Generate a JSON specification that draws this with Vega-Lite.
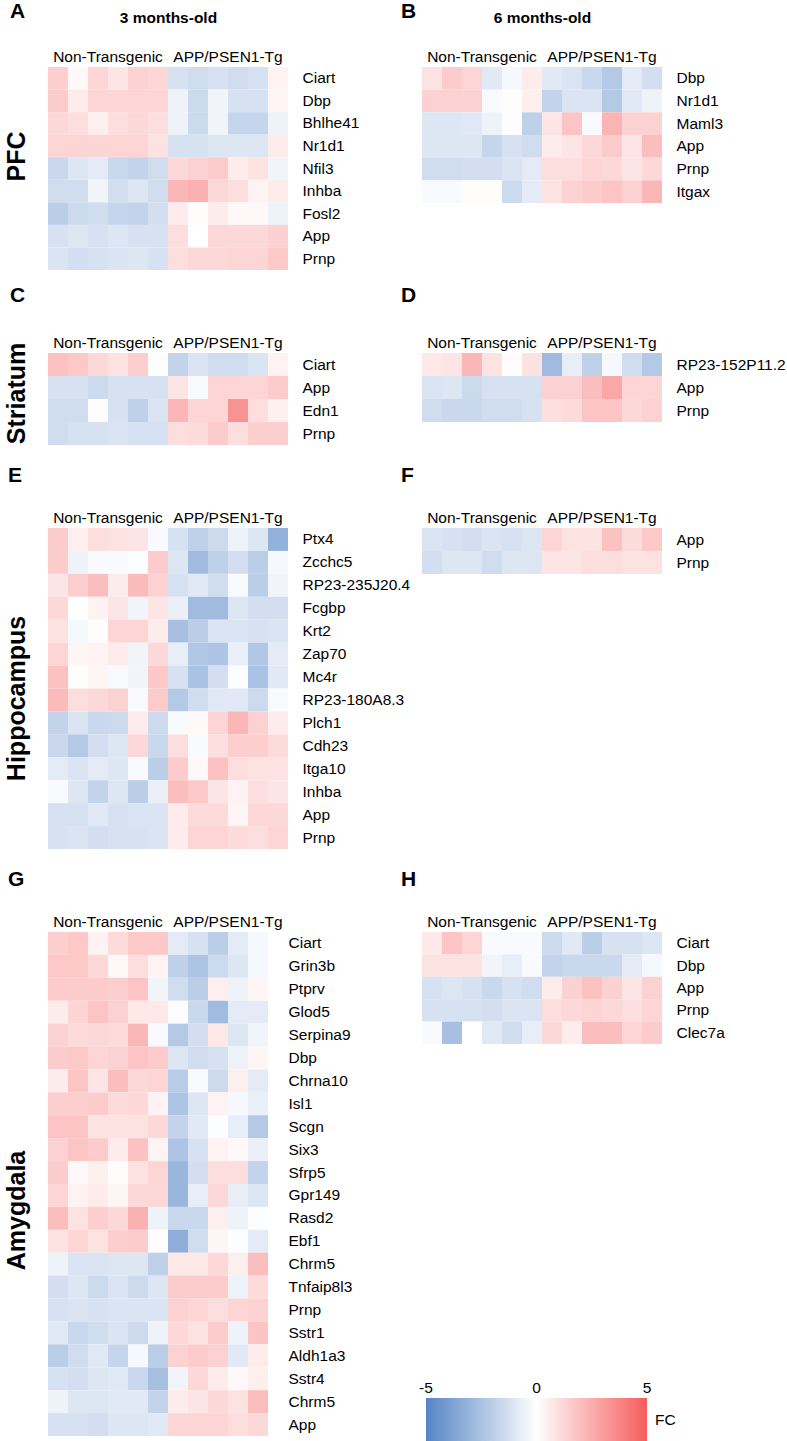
{
"$schema": "https://vega.github.io/schema/vega-lite/v6.json",
"background": "white",
"padding": {"left": 4, "top": 1, "right": 0, "bottom": 0},
"autosize": {"type": "pad"},
"config": {
  "font": "Liberation Sans",
  "view": {"stroke": null},
  "axis": {"ticks": false, "domain": false, "grid": false, "labelColor": "black", "labelFontSize": 15.5, "titleColor": "black"},
  "axisTop": {"labelOffset": 10, "labelPadding": 6, "labelBaseline": "alphabetic", "labelAngle": 0, "labelOverlap": false, "titleFontSize": 15.5, "titleFontWeight": "bold", "titlePadding": 27, "titleBaseline": "alphabetic"},
  "axisRight": {"labelPadding": 14, "labelBaseline": "middle", "labelAlign": "left"},
  "axisLeft": {"titleFontSize": 25, "titleFontWeight": "bold", "titlePadding": 19, "labels": false},
  "title": {"fontSize": 21, "fontWeight": "bold", "color": "black", "anchor": "start", "frame": "group", "baseline": "alphabetic"},
  "legend": {"orient": "none", "direction": "horizontal", "gradientLength": 221, "gradientThickness": 44, "gradientStrokeWidth": 0, "labelFontSize": 15.5, "labelColor": "black", "labelOverlap": false, "titleOrient": "right", "titleFontSize": 15.5, "titleFontWeight": "normal", "titleColor": "black", "titlePadding": 8, "titleAnchor": "middle"}
},
"datasets": {
"A": [
{"g":"Ciart","s":1,"v":1.5},{"g":"Ciart","s":2,"v":0.2},{"g":"Ciart","s":3,"v":1.3},{"g":"Ciart","s":4,"v":0.8},{"g":"Ciart","s":5,"v":1.4},{"g":"Ciart","s":6,"v":1.3},{"g":"Ciart","s":7,"v":-1.2},{"g":"Ciart","s":8,"v":-1.4},{"g":"Ciart","s":9,"v":-1.2},{"g":"Ciart","s":10,"v":-1.4},{"g":"Ciart","s":11,"v":-1.2},{"g":"Ciart","s":12,"v":0.4},
{"g":"Dbp","s":1,"v":1.6},{"g":"Dbp","s":2,"v":0.6},{"g":"Dbp","s":3,"v":1.3},{"g":"Dbp","s":4,"v":1.3},{"g":"Dbp","s":5,"v":1.3},{"g":"Dbp","s":6,"v":1.3},{"g":"Dbp","s":7,"v":-0.5},{"g":"Dbp","s":8,"v":-1.5},{"g":"Dbp","s":9,"v":-0.4},{"g":"Dbp","s":10,"v":-1.2},{"g":"Dbp","s":11,"v":-1.2},{"g":"Dbp","s":12,"v":0.3},
{"g":"Bhlhe41","s":1,"v":1.2},{"g":"Bhlhe41","s":2,"v":1.0},{"g":"Bhlhe41","s":3,"v":0.5},{"g":"Bhlhe41","s":4,"v":1.0},{"g":"Bhlhe41","s":5,"v":1.2},{"g":"Bhlhe41","s":6,"v":1.0},{"g":"Bhlhe41","s":7,"v":-0.5},{"g":"Bhlhe41","s":8,"v":-1.5},{"g":"Bhlhe41","s":9,"v":-0.4},{"g":"Bhlhe41","s":10,"v":-1.7},{"g":"Bhlhe41","s":11,"v":-1.7},{"g":"Bhlhe41","s":12,"v":-0.5},
{"g":"Nr1d1","s":1,"v":1.3},{"g":"Nr1d1","s":2,"v":1.3},{"g":"Nr1d1","s":3,"v":1.3},{"g":"Nr1d1","s":4,"v":1.3},{"g":"Nr1d1","s":5,"v":1.3},{"g":"Nr1d1","s":6,"v":0.9},{"g":"Nr1d1","s":7,"v":-1.2},{"g":"Nr1d1","s":8,"v":-1.2},{"g":"Nr1d1","s":9,"v":-1.0},{"g":"Nr1d1","s":10,"v":-1.0},{"g":"Nr1d1","s":11,"v":-1.0},{"g":"Nr1d1","s":12,"v":0.6},
{"g":"Nfil3","s":1,"v":-1.6},{"g":"Nfil3","s":2,"v":-1.0},{"g":"Nfil3","s":3,"v":-0.8},{"g":"Nfil3","s":4,"v":-1.6},{"g":"Nfil3","s":5,"v":-1.8},{"g":"Nfil3","s":6,"v":-1.4},{"g":"Nfil3","s":7,"v":1.2},{"g":"Nfil3","s":8,"v":1.4},{"g":"Nfil3","s":9,"v":1.6},{"g":"Nfil3","s":10,"v":0.6},{"g":"Nfil3","s":11,"v":0.9},{"g":"Nfil3","s":12,"v":-0.4},
{"g":"Inhba","s":1,"v":-1.4},{"g":"Inhba","s":2,"v":-1.4},{"g":"Inhba","s":3,"v":-0.4},{"g":"Inhba","s":4,"v":-1.3},{"g":"Inhba","s":5,"v":-1.0},{"g":"Inhba","s":6,"v":-1.4},{"g":"Inhba","s":7,"v":2.2},{"g":"Inhba","s":8,"v":2.4},{"g":"Inhba","s":9,"v":1.2},{"g":"Inhba","s":10,"v":1.0},{"g":"Inhba","s":11,"v":0.4},{"g":"Inhba","s":12,"v":0.6},
{"g":"Fosl2","s":1,"v":-2.0},{"g":"Fosl2","s":2,"v":-1.5},{"g":"Fosl2","s":3,"v":-1.4},{"g":"Fosl2","s":4,"v":-1.7},{"g":"Fosl2","s":5,"v":-1.8},{"g":"Fosl2","s":6,"v":-1.3},{"g":"Fosl2","s":7,"v":0.6},{"g":"Fosl2","s":8,"v":0.1},{"g":"Fosl2","s":9,"v":0.6},{"g":"Fosl2","s":10,"v":0.2},{"g":"Fosl2","s":11,"v":0.2},{"g":"Fosl2","s":12,"v":-0.5},
{"g":"App","s":1,"v":-1.2},{"g":"App","s":2,"v":-1.0},{"g":"App","s":3,"v":-1.2},{"g":"App","s":4,"v":-1.0},{"g":"App","s":5,"v":-1.2},{"g":"App","s":6,"v":-1.2},{"g":"App","s":7,"v":1.0},{"g":"App","s":8,"v":0.0},{"g":"App","s":9,"v":1.2},{"g":"App","s":10,"v":1.2},{"g":"App","s":11,"v":1.2},{"g":"App","s":12,"v":1.4},
{"g":"Prnp","s":1,"v":-1.1},{"g":"Prnp","s":2,"v":-1.3},{"g":"Prnp","s":3,"v":-1.2},{"g":"Prnp","s":4,"v":-1.1},{"g":"Prnp","s":5,"v":-1.0},{"g":"Prnp","s":6,"v":-1.2},{"g":"Prnp","s":7,"v":1.0},{"g":"Prnp","s":8,"v":1.2},{"g":"Prnp","s":9,"v":1.2},{"g":"Prnp","s":10,"v":1.3},{"g":"Prnp","s":11,"v":1.3},{"g":"Prnp","s":12,"v":1.7}
],
"B": [
{"g":"Dbp","s":1,"v":0.9},{"g":"Dbp","s":2,"v":1.6},{"g":"Dbp","s":3,"v":1.3},{"g":"Dbp","s":4,"v":-0.9},{"g":"Dbp","s":5,"v":-0.3},{"g":"Dbp","s":6,"v":0.6},{"g":"Dbp","s":7,"v":-0.9},{"g":"Dbp","s":8,"v":-1.1},{"g":"Dbp","s":9,"v":-1.6},{"g":"Dbp","s":10,"v":-2.2},{"g":"Dbp","s":11,"v":-0.8},{"g":"Dbp","s":12,"v":-1.3},
{"g":"Nr1d1","s":1,"v":1.4},{"g":"Nr1d1","s":2,"v":1.4},{"g":"Nr1d1","s":3,"v":1.4},{"g":"Nr1d1","s":4,"v":-0.2},{"g":"Nr1d1","s":5,"v":0.1},{"g":"Nr1d1","s":6,"v":0.5},{"g":"Nr1d1","s":7,"v":-1.8},{"g":"Nr1d1","s":8,"v":-1.1},{"g":"Nr1d1","s":9,"v":-1.1},{"g":"Nr1d1","s":10,"v":-2.2},{"g":"Nr1d1","s":11,"v":-0.9},{"g":"Nr1d1","s":12,"v":-0.5},
{"g":"Maml3","s":1,"v":-1.0},{"g":"Maml3","s":2,"v":-1.0},{"g":"Maml3","s":3,"v":-0.9},{"g":"Maml3","s":4,"v":-0.5},{"g":"Maml3","s":5,"v":0.1},{"g":"Maml3","s":6,"v":-1.9},{"g":"Maml3","s":7,"v":0.8},{"g":"Maml3","s":8,"v":1.8},{"g":"Maml3","s":9,"v":-0.2},{"g":"Maml3","s":10,"v":2.3},{"g":"Maml3","s":11,"v":1.4},{"g":"Maml3","s":12,"v":1.4},
{"g":"App","s":1,"v":-1.0},{"g":"App","s":2,"v":-1.0},{"g":"App","s":3,"v":-1.0},{"g":"App","s":4,"v":-1.7},{"g":"App","s":5,"v":-1.2},{"g":"App","s":6,"v":-1.4},{"g":"App","s":7,"v":0.6},{"g":"App","s":8,"v":0.8},{"g":"App","s":9,"v":1.2},{"g":"App","s":10,"v":1.6},{"g":"App","s":11,"v":0.8},{"g":"App","s":12,"v":2.0},
{"g":"Prnp","s":1,"v":-1.4},{"g":"Prnp","s":2,"v":-1.4},{"g":"Prnp","s":3,"v":-1.3},{"g":"Prnp","s":4,"v":-1.3},{"g":"Prnp","s":5,"v":-1.1},{"g":"Prnp","s":6,"v":-0.8},{"g":"Prnp","s":7,"v":1.0},{"g":"Prnp","s":8,"v":1.0},{"g":"Prnp","s":9,"v":1.3},{"g":"Prnp","s":10,"v":1.2},{"g":"Prnp","s":11,"v":0.8},{"g":"Prnp","s":12,"v":1.2},
{"g":"Itgax","s":1,"v":-0.2},{"g":"Itgax","s":2,"v":-0.2},{"g":"Itgax","s":3,"v":0.1},{"g":"Itgax","s":4,"v":0.1},{"g":"Itgax","s":5,"v":-1.5},{"g":"Itgax","s":6,"v":-0.8},{"g":"Itgax","s":7,"v":0.9},{"g":"Itgax","s":8,"v":1.4},{"g":"Itgax","s":9,"v":1.6},{"g":"Itgax","s":10,"v":1.8},{"g":"Itgax","s":11,"v":1.4},{"g":"Itgax","s":12,"v":2.2}
],
"C": [
{"g":"Ciart","s":1,"v":1.9},{"g":"Ciart","s":2,"v":1.7},{"g":"Ciart","s":3,"v":1.2},{"g":"Ciart","s":4,"v":0.9},{"g":"Ciart","s":5,"v":1.5},{"g":"Ciart","s":6,"v":0.1},{"g":"Ciart","s":7,"v":-1.8},{"g":"Ciart","s":8,"v":-1.1},{"g":"Ciart","s":9,"v":-1.4},{"g":"Ciart","s":10,"v":-1.4},{"g":"Ciart","s":11,"v":-1.1},{"g":"Ciart","s":12,"v":0.4},
{"g":"App","s":1,"v":-1.2},{"g":"App","s":2,"v":-1.2},{"g":"App","s":3,"v":-1.5},{"g":"App","s":4,"v":-1.2},{"g":"App","s":5,"v":-1.2},{"g":"App","s":6,"v":-1.2},{"g":"App","s":7,"v":0.8},{"g":"App","s":8,"v":-0.2},{"g":"App","s":9,"v":1.3},{"g":"App","s":10,"v":1.3},{"g":"App","s":11,"v":1.3},{"g":"App","s":12,"v":1.6},
{"g":"Edn1","s":1,"v":-1.4},{"g":"Edn1","s":2,"v":-1.4},{"g":"Edn1","s":3,"v":0.1},{"g":"Edn1","s":4,"v":-1.2},{"g":"Edn1","s":5,"v":-1.9},{"g":"Edn1","s":6,"v":-1.1},{"g":"Edn1","s":7,"v":2.2},{"g":"Edn1","s":8,"v":1.3},{"g":"Edn1","s":9,"v":1.3},{"g":"Edn1","s":10,"v":3.3},{"g":"Edn1","s":11,"v":1.0},{"g":"Edn1","s":12,"v":0.5},
{"g":"Prnp","s":1,"v":-1.4},{"g":"Prnp","s":2,"v":-1.2},{"g":"Prnp","s":3,"v":-1.2},{"g":"Prnp","s":4,"v":-1.1},{"g":"Prnp","s":5,"v":-1.2},{"g":"Prnp","s":6,"v":-1.2},{"g":"Prnp","s":7,"v":1.0},{"g":"Prnp","s":8,"v":1.1},{"g":"Prnp","s":9,"v":1.6},{"g":"Prnp","s":10,"v":1.0},{"g":"Prnp","s":11,"v":1.5},{"g":"Prnp","s":12,"v":1.5}
],
"D": [
{"g":"RP23-152P11.2","s":1,"v":0.7},{"g":"RP23-152P11.2","s":2,"v":0.8},{"g":"RP23-152P11.2","s":3,"v":2.2},{"g":"RP23-152P11.2","s":4,"v":0.9},{"g":"RP23-152P11.2","s":5,"v":0.1},{"g":"RP23-152P11.2","s":6,"v":0.9},{"g":"RP23-152P11.2","s":7,"v":-2.8},{"g":"RP23-152P11.2","s":8,"v":-0.7},{"g":"RP23-152P11.2","s":9,"v":-1.9},{"g":"RP23-152P11.2","s":10,"v":-0.3},{"g":"RP23-152P11.2","s":11,"v":-1.4},{"g":"RP23-152P11.2","s":12,"v":-2.2},
{"g":"App","s":1,"v":-1.1},{"g":"App","s":2,"v":-1.0},{"g":"App","s":3,"v":-1.5},{"g":"App","s":4,"v":-1.2},{"g":"App","s":5,"v":-1.2},{"g":"App","s":6,"v":-1.2},{"g":"App","s":7,"v":1.4},{"g":"App","s":8,"v":1.4},{"g":"App","s":9,"v":2.0},{"g":"App","s":10,"v":2.7},{"g":"App","s":11,"v":1.3},{"g":"App","s":12,"v":1.3},
{"g":"Prnp","s":1,"v":-1.4},{"g":"Prnp","s":2,"v":-1.6},{"g":"Prnp","s":3,"v":-1.6},{"g":"Prnp","s":4,"v":-1.4},{"g":"Prnp","s":5,"v":-1.4},{"g":"Prnp","s":6,"v":-1.2},{"g":"Prnp","s":7,"v":1.0},{"g":"Prnp","s":8,"v":1.1},{"g":"Prnp","s":9,"v":1.8},{"g":"Prnp","s":10,"v":1.8},{"g":"Prnp","s":11,"v":1.2},{"g":"Prnp","s":12,"v":1.4}
],
"E": [
{"g":"Ptx4","s":1,"v":1.6},{"g":"Ptx4","s":2,"v":0.5},{"g":"Ptx4","s":3,"v":1.0},{"g":"Ptx4","s":4,"v":0.9},{"g":"Ptx4","s":5,"v":0.8},{"g":"Ptx4","s":6,"v":-0.2},{"g":"Ptx4","s":7,"v":-1.2},{"g":"Ptx4","s":8,"v":-1.9},{"g":"Ptx4","s":9,"v":-1.5},{"g":"Ptx4","s":10,"v":-0.5},{"g":"Ptx4","s":11,"v":-1.0},{"g":"Ptx4","s":12,"v":-3.2},
{"g":"Zcchc5","s":1,"v":1.6},{"g":"Zcchc5","s":2,"v":-0.5},{"g":"Zcchc5","s":3,"v":-0.2},{"g":"Zcchc5","s":4,"v":-0.2},{"g":"Zcchc5","s":5,"v":-0.1},{"g":"Zcchc5","s":6,"v":1.6},{"g":"Zcchc5","s":7,"v":-1.0},{"g":"Zcchc5","s":8,"v":-2.8},{"g":"Zcchc5","s":9,"v":-1.9},{"g":"Zcchc5","s":10,"v":-1.3},{"g":"Zcchc5","s":11,"v":-2.0},{"g":"Zcchc5","s":12,"v":-0.3},
{"g":"RP23-235J20.4","s":1,"v":0.8},{"g":"RP23-235J20.4","s":2,"v":1.5},{"g":"RP23-235J20.4","s":3,"v":2.0},{"g":"RP23-235J20.4","s":4,"v":0.6},{"g":"RP23-235J20.4","s":5,"v":2.1},{"g":"RP23-235J20.4","s":6,"v":1.4},{"g":"RP23-235J20.4","s":7,"v":-1.2},{"g":"RP23-235J20.4","s":8,"v":-0.9},{"g":"RP23-235J20.4","s":9,"v":-1.4},{"g":"RP23-235J20.4","s":10,"v":-0.2},{"g":"RP23-235J20.4","s":11,"v":-2.0},{"g":"RP23-235J20.4","s":12,"v":-0.4},
{"g":"Fcgbp","s":1,"v":1.2},{"g":"Fcgbp","s":2,"v":0.0},{"g":"Fcgbp","s":3,"v":0.4},{"g":"Fcgbp","s":4,"v":0.8},{"g":"Fcgbp","s":5,"v":-0.4},{"g":"Fcgbp","s":6,"v":0.8},{"g":"Fcgbp","s":7,"v":-0.6},{"g":"Fcgbp","s":8,"v":-2.8},{"g":"Fcgbp","s":9,"v":-2.8},{"g":"Fcgbp","s":10,"v":-1.0},{"g":"Fcgbp","s":11,"v":-1.3},{"g":"Fcgbp","s":12,"v":-1.3},
{"g":"Krt2","s":1,"v":0.9},{"g":"Krt2","s":2,"v":-0.3},{"g":"Krt2","s":3,"v":0.1},{"g":"Krt2","s":4,"v":1.3},{"g":"Krt2","s":5,"v":1.3},{"g":"Krt2","s":6,"v":0.6},{"g":"Krt2","s":7,"v":-2.6},{"g":"Krt2","s":8,"v":-2.0},{"g":"Krt2","s":9,"v":-1.1},{"g":"Krt2","s":10,"v":-1.1},{"g":"Krt2","s":11,"v":-1.2},{"g":"Krt2","s":12,"v":-1.1},
{"g":"Zap70","s":1,"v":1.3},{"g":"Zap70","s":2,"v":0.3},{"g":"Zap70","s":3,"v":0.4},{"g":"Zap70","s":4,"v":0.6},{"g":"Zap70","s":5,"v":-0.4},{"g":"Zap70","s":6,"v":1.2},{"g":"Zap70","s":7,"v":-0.7},{"g":"Zap70","s":8,"v":-2.3},{"g":"Zap70","s":9,"v":-2.4},{"g":"Zap70","s":10,"v":-0.6},{"g":"Zap70","s":11,"v":-2.3},{"g":"Zap70","s":12,"v":-0.8},
{"g":"Mc4r","s":1,"v":1.9},{"g":"Mc4r","s":2,"v":0.1},{"g":"Mc4r","s":3,"v":0.3},{"g":"Mc4r","s":4,"v":-0.2},{"g":"Mc4r","s":5,"v":-0.4},{"g":"Mc4r","s":6,"v":1.7},{"g":"Mc4r","s":7,"v":-1.2},{"g":"Mc4r","s":8,"v":-2.5},{"g":"Mc4r","s":9,"v":-1.3},{"g":"Mc4r","s":10,"v":-0.1},{"g":"Mc4r","s":11,"v":-2.5},{"g":"Mc4r","s":12,"v":-0.9},
{"g":"RP23-180A8.3","s":1,"v":2.1},{"g":"RP23-180A8.3","s":2,"v":1.0},{"g":"RP23-180A8.3","s":3,"v":1.2},{"g":"RP23-180A8.3","s":4,"v":1.4},{"g":"RP23-180A8.3","s":5,"v":-0.2},{"g":"RP23-180A8.3","s":6,"v":1.6},{"g":"RP23-180A8.3","s":7,"v":-2.2},{"g":"RP23-180A8.3","s":8,"v":-1.4},{"g":"RP23-180A8.3","s":9,"v":-0.9},{"g":"RP23-180A8.3","s":10,"v":-0.9},{"g":"RP23-180A8.3","s":11,"v":-1.5},{"g":"RP23-180A8.3","s":12,"v":-0.2},
{"g":"Plch1","s":1,"v":-1.8},{"g":"Plch1","s":2,"v":-1.1},{"g":"Plch1","s":3,"v":-1.6},{"g":"Plch1","s":4,"v":-1.5},{"g":"Plch1","s":5,"v":0.6},{"g":"Plch1","s":6,"v":-1.5},{"g":"Plch1","s":7,"v":-0.2},{"g":"Plch1","s":8,"v":0.2},{"g":"Plch1","s":9,"v":1.3},{"g":"Plch1","s":10,"v":2.2},{"g":"Plch1","s":11,"v":1.4},{"g":"Plch1","s":12,"v":0.6},
{"g":"Cdh23","s":1,"v":-1.6},{"g":"Cdh23","s":2,"v":-2.2},{"g":"Cdh23","s":3,"v":-1.3},{"g":"Cdh23","s":4,"v":-1.0},{"g":"Cdh23","s":5,"v":1.2},{"g":"Cdh23","s":6,"v":-1.6},{"g":"Cdh23","s":7,"v":1.0},{"g":"Cdh23","s":8,"v":-0.2},{"g":"Cdh23","s":9,"v":1.0},{"g":"Cdh23","s":10,"v":1.5},{"g":"Cdh23","s":11,"v":1.5},{"g":"Cdh23","s":12,"v":1.1},
{"g":"Itga10","s":1,"v":-0.8},{"g":"Itga10","s":2,"v":-1.1},{"g":"Itga10","s":3,"v":-0.8},{"g":"Itga10","s":4,"v":-1.0},{"g":"Itga10","s":5,"v":-0.2},{"g":"Itga10","s":6,"v":-2.0},{"g":"Itga10","s":7,"v":1.6},{"g":"Itga10","s":8,"v":0.2},{"g":"Itga10","s":9,"v":1.9},{"g":"Itga10","s":10,"v":1.0},{"g":"Itga10","s":11,"v":0.9},{"g":"Itga10","s":12,"v":0.9},
{"g":"Inhba","s":1,"v":-0.2},{"g":"Inhba","s":2,"v":-1.0},{"g":"Inhba","s":3,"v":-1.8},{"g":"Inhba","s":4,"v":-1.0},{"g":"Inhba","s":5,"v":-2.0},{"g":"Inhba","s":6,"v":-0.6},{"g":"Inhba","s":7,"v":2.0},{"g":"Inhba","s":8,"v":1.7},{"g":"Inhba","s":9,"v":0.8},{"g":"Inhba","s":10,"v":0.4},{"g":"Inhba","s":11,"v":1.0},{"g":"Inhba","s":12,"v":0.8},
{"g":"App","s":1,"v":-1.2},{"g":"App","s":2,"v":-1.2},{"g":"App","s":3,"v":-0.9},{"g":"App","s":4,"v":-1.2},{"g":"App","s":5,"v":-1.1},{"g":"App","s":6,"v":-1.1},{"g":"App","s":7,"v":0.6},{"g":"App","s":8,"v":1.1},{"g":"App","s":9,"v":1.1},{"g":"App","s":10,"v":0.3},{"g":"App","s":11,"v":1.2},{"g":"App","s":12,"v":1.2},
{"g":"Prnp","s":1,"v":-1.2},{"g":"Prnp","s":2,"v":-1.1},{"g":"Prnp","s":3,"v":-1.3},{"g":"Prnp","s":4,"v":-1.2},{"g":"Prnp","s":5,"v":-1.2},{"g":"Prnp","s":6,"v":-1.1},{"g":"Prnp","s":7,"v":0.6},{"g":"Prnp","s":8,"v":1.3},{"g":"Prnp","s":9,"v":1.3},{"g":"Prnp","s":10,"v":1.1},{"g":"Prnp","s":11,"v":1.0},{"g":"Prnp","s":12,"v":1.3}
],
"F": [
{"g":"App","s":1,"v":-1.1},{"g":"App","s":2,"v":-1.2},{"g":"App","s":3,"v":-1.3},{"g":"App","s":4,"v":-1.1},{"g":"App","s":5,"v":-1.2},{"g":"App","s":6,"v":-1.0},{"g":"App","s":7,"v":1.3},{"g":"App","s":8,"v":0.9},{"g":"App","s":9,"v":0.9},{"g":"App","s":10,"v":1.9},{"g":"App","s":11,"v":1.1},{"g":"App","s":12,"v":1.7},
{"g":"Prnp","s":1,"v":-1.3},{"g":"Prnp","s":2,"v":-1.0},{"g":"Prnp","s":3,"v":-1.0},{"g":"Prnp","s":4,"v":-1.4},{"g":"Prnp","s":5,"v":-1.0},{"g":"Prnp","s":6,"v":-1.0},{"g":"Prnp","s":7,"v":0.8},{"g":"Prnp","s":8,"v":0.8},{"g":"Prnp","s":9,"v":1.0},{"g":"Prnp","s":10,"v":1.0},{"g":"Prnp","s":11,"v":0.9},{"g":"Prnp","s":12,"v":0.9}
],
"G": [
{"g":"Ciart","s":1,"v":1.5},{"g":"Ciart","s":2,"v":1.7},{"g":"Ciart","s":3,"v":0.4},{"g":"Ciart","s":4,"v":1.1},{"g":"Ciart","s":5,"v":1.7},{"g":"Ciart","s":6,"v":1.7},{"g":"Ciart","s":7,"v":-0.8},{"g":"Ciart","s":8,"v":-1.2},{"g":"Ciart","s":9,"v":-2.0},{"g":"Ciart","s":10,"v":-0.8},{"g":"Ciart","s":11,"v":-0.3},
{"g":"Grin3b","s":1,"v":1.7},{"g":"Grin3b","s":2,"v":1.7},{"g":"Grin3b","s":3,"v":1.2},{"g":"Grin3b","s":4,"v":0.2},{"g":"Grin3b","s":5,"v":1.0},{"g":"Grin3b","s":6,"v":0.4},{"g":"Grin3b","s":7,"v":-1.9},{"g":"Grin3b","s":8,"v":-2.4},{"g":"Grin3b","s":9,"v":-1.5},{"g":"Grin3b","s":10,"v":-1.0},{"g":"Grin3b","s":11,"v":-0.3},
{"g":"Ptprv","s":1,"v":1.6},{"g":"Ptprv","s":2,"v":1.6},{"g":"Ptprv","s":3,"v":1.6},{"g":"Ptprv","s":4,"v":1.5},{"g":"Ptprv","s":5,"v":1.8},{"g":"Ptprv","s":6,"v":-0.4},{"g":"Ptprv","s":7,"v":-1.4},{"g":"Ptprv","s":8,"v":-2.0},{"g":"Ptprv","s":9,"v":0.5},{"g":"Ptprv","s":10,"v":-0.5},{"g":"Ptprv","s":11,"v":0.3},
{"g":"Glod5","s":1,"v":0.6},{"g":"Glod5","s":2,"v":1.3},{"g":"Glod5","s":3,"v":1.8},{"g":"Glod5","s":4,"v":1.4},{"g":"Glod5","s":5,"v":0.7},{"g":"Glod5","s":6,"v":0.7},{"g":"Glod5","s":7,"v":-0.1},{"g":"Glod5","s":8,"v":-1.6},{"g":"Glod5","s":9,"v":-2.8},{"g":"Glod5","s":10,"v":-0.8},{"g":"Glod5","s":11,"v":-0.8},
{"g":"Serpina9","s":1,"v":1.4},{"g":"Serpina9","s":2,"v":1.1},{"g":"Serpina9","s":3,"v":1.2},{"g":"Serpina9","s":4,"v":1.1},{"g":"Serpina9","s":5,"v":2.2},{"g":"Serpina9","s":6,"v":-0.2},{"g":"Serpina9","s":7,"v":-2.2},{"g":"Serpina9","s":8,"v":-1.3},{"g":"Serpina9","s":9,"v":0.7},{"g":"Serpina9","s":10,"v":-1.0},{"g":"Serpina9","s":11,"v":-0.4},
{"g":"Dbp","s":1,"v":1.6},{"g":"Dbp","s":2,"v":1.7},{"g":"Dbp","s":3,"v":1.3},{"g":"Dbp","s":4,"v":1.4},{"g":"Dbp","s":5,"v":1.8},{"g":"Dbp","s":6,"v":1.6},{"g":"Dbp","s":7,"v":-1.0},{"g":"Dbp","s":8,"v":-1.4},{"g":"Dbp","s":9,"v":-1.2},{"g":"Dbp","s":10,"v":-0.5},{"g":"Dbp","s":11,"v":0.3},
{"g":"Chrna10","s":1,"v":0.6},{"g":"Chrna10","s":2,"v":1.8},{"g":"Chrna10","s":3,"v":0.8},{"g":"Chrna10","s":4,"v":2.0},{"g":"Chrna10","s":5,"v":1.2},{"g":"Chrna10","s":6,"v":1.3},{"g":"Chrna10","s":7,"v":-2.1},{"g":"Chrna10","s":8,"v":-0.2},{"g":"Chrna10","s":9,"v":-1.5},{"g":"Chrna10","s":10,"v":0.5},{"g":"Chrna10","s":11,"v":-0.8},
{"g":"Isl1","s":1,"v":1.5},{"g":"Isl1","s":2,"v":1.5},{"g":"Isl1","s":3,"v":1.6},{"g":"Isl1","s":4,"v":1.1},{"g":"Isl1","s":5,"v":1.2},{"g":"Isl1","s":6,"v":0.4},{"g":"Isl1","s":7,"v":-2.4},{"g":"Isl1","s":8,"v":-1.0},{"g":"Isl1","s":9,"v":0.4},{"g":"Isl1","s":10,"v":-0.3},{"g":"Isl1","s":11,"v":-0.6},
{"g":"Scgn","s":1,"v":1.8},{"g":"Scgn","s":2,"v":1.8},{"g":"Scgn","s":3,"v":0.9},{"g":"Scgn","s":4,"v":0.9},{"g":"Scgn","s":5,"v":0.9},{"g":"Scgn","s":6,"v":1.2},{"g":"Scgn","s":7,"v":-1.8},{"g":"Scgn","s":8,"v":-0.9},{"g":"Scgn","s":9,"v":-0.1},{"g":"Scgn","s":10,"v":-0.7},{"g":"Scgn","s":11,"v":-2.2},
{"g":"Six3","s":1,"v":1.4},{"g":"Six3","s":2,"v":1.8},{"g":"Six3","s":3,"v":1.6},{"g":"Six3","s":4,"v":0.6},{"g":"Six3","s":5,"v":1.9},{"g":"Six3","s":6,"v":0.4},{"g":"Six3","s":7,"v":-2.4},{"g":"Six3","s":8,"v":-1.2},{"g":"Six3","s":9,"v":0.4},{"g":"Six3","s":10,"v":0.2},{"g":"Six3","s":11,"v":-0.6},
{"g":"Sfrp5","s":1,"v":1.6},{"g":"Sfrp5","s":2,"v":0.2},{"g":"Sfrp5","s":3,"v":0.5},{"g":"Sfrp5","s":4,"v":0.1},{"g":"Sfrp5","s":5,"v":0.9},{"g":"Sfrp5","s":6,"v":1.3},{"g":"Sfrp5","s":7,"v":-3.0},{"g":"Sfrp5","s":8,"v":-1.3},{"g":"Sfrp5","s":9,"v":1.0},{"g":"Sfrp5","s":10,"v":1.0},{"g":"Sfrp5","s":11,"v":-1.8},
{"g":"Gpr149","s":1,"v":1.3},{"g":"Gpr149","s":2,"v":0.4},{"g":"Gpr149","s":3,"v":0.6},{"g":"Gpr149","s":4,"v":0.3},{"g":"Gpr149","s":5,"v":1.2},{"g":"Gpr149","s":6,"v":1.2},{"g":"Gpr149","s":7,"v":-3.0},{"g":"Gpr149","s":8,"v":-0.7},{"g":"Gpr149","s":9,"v":1.2},{"g":"Gpr149","s":10,"v":-0.7},{"g":"Gpr149","s":11,"v":-1.0},
{"g":"Rasd2","s":1,"v":2.0},{"g":"Rasd2","s":2,"v":0.9},{"g":"Rasd2","s":3,"v":1.5},{"g":"Rasd2","s":4,"v":1.2},{"g":"Rasd2","s":5,"v":2.4},{"g":"Rasd2","s":6,"v":-0.5},{"g":"Rasd2","s":7,"v":-1.6},{"g":"Rasd2","s":8,"v":-1.6},{"g":"Rasd2","s":9,"v":0.5},{"g":"Rasd2","s":10,"v":-0.5},{"g":"Rasd2","s":11,"v":-0.1},
{"g":"Ebf1","s":1,"v":0.9},{"g":"Ebf1","s":2,"v":1.3},{"g":"Ebf1","s":3,"v":0.9},{"g":"Ebf1","s":4,"v":1.5},{"g":"Ebf1","s":5,"v":1.6},{"g":"Ebf1","s":6,"v":0.1},{"g":"Ebf1","s":7,"v":-3.3},{"g":"Ebf1","s":8,"v":-1.4},{"g":"Ebf1","s":9,"v":0.3},{"g":"Ebf1","s":10,"v":-0.1},{"g":"Ebf1","s":11,"v":-0.8},
{"g":"Chrm5","s":1,"v":-0.5},{"g":"Chrm5","s":2,"v":-1.1},{"g":"Chrm5","s":3,"v":-1.1},{"g":"Chrm5","s":4,"v":-1.0},{"g":"Chrm5","s":5,"v":-1.0},{"g":"Chrm5","s":6,"v":-1.9},{"g":"Chrm5","s":7,"v":0.7},{"g":"Chrm5","s":8,"v":0.7},{"g":"Chrm5","s":9,"v":1.2},{"g":"Chrm5","s":10,"v":0.5},{"g":"Chrm5","s":11,"v":2.0},
{"g":"Tnfaip8l3","s":1,"v":-1.3},{"g":"Tnfaip8l3","s":2,"v":-1.0},{"g":"Tnfaip8l3","s":3,"v":-1.5},{"g":"Tnfaip8l3","s":4,"v":-1.1},{"g":"Tnfaip8l3","s":5,"v":-1.5},{"g":"Tnfaip8l3","s":6,"v":-1.0},{"g":"Tnfaip8l3","s":7,"v":1.6},{"g":"Tnfaip8l3","s":8,"v":1.6},{"g":"Tnfaip8l3","s":9,"v":1.6},{"g":"Tnfaip8l3","s":10,"v":-0.5},{"g":"Tnfaip8l3","s":11,"v":1.1},
{"g":"Prnp","s":1,"v":-1.2},{"g":"Prnp","s":2,"v":-1.1},{"g":"Prnp","s":3,"v":-1.2},{"g":"Prnp","s":4,"v":-1.1},{"g":"Prnp","s":5,"v":-1.1},{"g":"Prnp","s":6,"v":-1.1},{"g":"Prnp","s":7,"v":1.4},{"g":"Prnp","s":8,"v":1.3},{"g":"Prnp","s":9,"v":1.0},{"g":"Prnp","s":10,"v":1.3},{"g":"Prnp","s":11,"v":1.4},
{"g":"Sstr1","s":1,"v":-0.9},{"g":"Sstr1","s":2,"v":-1.6},{"g":"Sstr1","s":3,"v":-1.4},{"g":"Sstr1","s":4,"v":-1.1},{"g":"Sstr1","s":5,"v":-1.5},{"g":"Sstr1","s":6,"v":-0.5},{"g":"Sstr1","s":7,"v":1.2},{"g":"Sstr1","s":8,"v":0.9},{"g":"Sstr1","s":9,"v":1.6},{"g":"Sstr1","s":10,"v":-0.5},{"g":"Sstr1","s":11,"v":1.8},
{"g":"Aldh1a3","s":1,"v":-2.0},{"g":"Aldh1a3","s":2,"v":-1.4},{"g":"Aldh1a3","s":3,"v":-0.9},{"g":"Aldh1a3","s":4,"v":-1.7},{"g":"Aldh1a3","s":5,"v":-0.3},{"g":"Aldh1a3","s":6,"v":-2.0},{"g":"Aldh1a3","s":7,"v":1.4},{"g":"Aldh1a3","s":8,"v":1.6},{"g":"Aldh1a3","s":9,"v":1.4},{"g":"Aldh1a3","s":10,"v":-0.9},{"g":"Aldh1a3","s":11,"v":0.6},
{"g":"Sstr4","s":1,"v":-1.2},{"g":"Sstr4","s":2,"v":-1.3},{"g":"Sstr4","s":3,"v":-1.0},{"g":"Sstr4","s":4,"v":-0.9},{"g":"Sstr4","s":5,"v":-1.6},{"g":"Sstr4","s":6,"v":-2.6},{"g":"Sstr4","s":7,"v":-0.4},{"g":"Sstr4","s":8,"v":1.2},{"g":"Sstr4","s":9,"v":0.6},{"g":"Sstr4","s":10,"v":0.2},{"g":"Sstr4","s":11,"v":0.5},
{"g":"Chrm5 ","s":1,"v":-0.5},{"g":"Chrm5 ","s":2,"v":-1.0},{"g":"Chrm5 ","s":3,"v":-1.0},{"g":"Chrm5 ","s":4,"v":-0.9},{"g":"Chrm5 ","s":5,"v":-0.9},{"g":"Chrm5 ","s":6,"v":-1.8},{"g":"Chrm5 ","s":7,"v":0.6},{"g":"Chrm5 ","s":8,"v":0.8},{"g":"Chrm5 ","s":9,"v":1.2},{"g":"Chrm5 ","s":10,"v":0.9},{"g":"Chrm5 ","s":11,"v":2.0},
{"g":"App","s":1,"v":-1.2},{"g":"App","s":2,"v":-1.2},{"g":"App","s":3,"v":-1.3},{"g":"App","s":4,"v":-1.0},{"g":"App","s":5,"v":-1.0},{"g":"App","s":6,"v":-0.9},{"g":"App","s":7,"v":1.3},{"g":"App","s":8,"v":1.3},{"g":"App","s":9,"v":1.3},{"g":"App","s":10,"v":1.0},{"g":"App","s":11,"v":1.2}
],
"H": [
{"g":"Ciart","s":1,"v":0.7},{"g":"Ciart","s":2,"v":1.8},{"g":"Ciart","s":3,"v":1.3},{"g":"Ciart","s":4,"v":-0.2},{"g":"Ciart","s":5,"v":-0.2},{"g":"Ciart","s":6,"v":-0.2},{"g":"Ciart","s":7,"v":-1.5},{"g":"Ciart","s":8,"v":-0.9},{"g":"Ciart","s":9,"v":-2.0},{"g":"Ciart","s":10,"v":-1.2},{"g":"Ciart","s":11,"v":-1.2},{"g":"Ciart","s":12,"v":-1.0},
{"g":"Dbp","s":1,"v":0.9},{"g":"Dbp","s":2,"v":0.9},{"g":"Dbp","s":3,"v":0.9},{"g":"Dbp","s":4,"v":-0.4},{"g":"Dbp","s":5,"v":-0.7},{"g":"Dbp","s":6,"v":-0.2},{"g":"Dbp","s":7,"v":-1.8},{"g":"Dbp","s":8,"v":-1.6},{"g":"Dbp","s":9,"v":-1.6},{"g":"Dbp","s":10,"v":-1.6},{"g":"Dbp","s":11,"v":-0.8},{"g":"Dbp","s":12,"v":-0.3},
{"g":"App","s":1,"v":-1.2},{"g":"App","s":2,"v":-1.0},{"g":"App","s":3,"v":-1.2},{"g":"App","s":4,"v":-1.6},{"g":"App","s":5,"v":-1.2},{"g":"App","s":6,"v":-1.4},{"g":"App","s":7,"v":0.6},{"g":"App","s":8,"v":1.4},{"g":"App","s":9,"v":1.9},{"g":"App","s":10,"v":1.4},{"g":"App","s":11,"v":0.8},{"g":"App","s":12,"v":1.4},
{"g":"Prnp","s":1,"v":-1.2},{"g":"Prnp","s":2,"v":-1.2},{"g":"Prnp","s":3,"v":-1.2},{"g":"Prnp","s":4,"v":-1.3},{"g":"Prnp","s":5,"v":-1.1},{"g":"Prnp","s":6,"v":-1.1},{"g":"Prnp","s":7,"v":1.0},{"g":"Prnp","s":8,"v":1.2},{"g":"Prnp","s":9,"v":1.3},{"g":"Prnp","s":10,"v":1.2},{"g":"Prnp","s":11,"v":1.0},{"g":"Prnp","s":12,"v":1.3},
{"g":"Clec7a","s":1,"v":-0.2},{"g":"Clec7a","s":2,"v":-2.6},{"g":"Clec7a","s":3,"v":0.0},{"g":"Clec7a","s":4,"v":-0.9},{"g":"Clec7a","s":5,"v":-1.4},{"g":"Clec7a","s":6,"v":-0.7},{"g":"Clec7a","s":7,"v":1.2},{"g":"Clec7a","s":8,"v":0.6},{"g":"Clec7a","s":9,"v":2.0},{"g":"Clec7a","s":10,"v":2.0},{"g":"Clec7a","s":11,"v":1.3},{"g":"Clec7a","s":12,"v":1.6}
]
},
"columns": 2,
"spacing": {"row": 83, "column": 134},
"bounds": "flush",
"align": "each",
"resolve": {"scale": {"color": "shared"}},
"concat": [
{
 "data": {"name": "A"}, "width": 240, "height": 203,
 "title": {"text": "A", "dx": -38, "offset": -12},
 "layer": [
  {"mark": {"type": "rect"},
   "encoding": {
    "x": {"field": "s", "type": "ordinal", "scale": {"paddingInner": 0, "paddingOuter": 0}, "axis": {"orient": "top", "title": "3 months-old", "labelExpr": "datum.value == 3 ? 'Non-Transgenic' : datum.value == 9 ? 'APP/PSEN1-Tg' : ''"}},
    "y": {"field": "g", "type": "ordinal", "sort": null, "scale": {"paddingInner": 0, "paddingOuter": 0}, "axis": {"orient": "right", "title": null}},
    "color": {"field": "v", "type": "quantitative", "scale": {"domain": [-5, 0, 5], "range": ["#5585c6", "#ffffff", "#f65c5c"], "interpolate": "rgb"}, "legend": {"values": [-5, 0, 5], "title": "FC", "legendX": 378, "legendY": 1331, "labelOffset": -49, "labelExpr": "'' + datum.value", "encode": {"labels": {"update": {"align": {"value": "center"}, "baseline": {"value": "alphabetic"}}}}}}
   }},
  {"mark": {"type": "rect", "opacity": 0},
   "encoding": {"y": {"field": "g", "type": "ordinal", "sort": null, "axis": {"orient": "left", "title": "PFC", "titleY": 89}}}}
 ],
 "resolve": {"axis": {"y": "independent"}}
},
{
 "data": {"name": "B"}, "width": 240, "height": 136,
 "title": {"text": "B", "dx": -21, "offset": -12},
 "mark": {"type": "rect"},
 "encoding": {
  "x": {"field": "s", "type": "ordinal", "scale": {"paddingInner": 0, "paddingOuter": 0}, "axis": {"orient": "top", "title": "6 months-old", "labelExpr": "datum.value == 3 ? 'Non-Transgenic' : datum.value == 9 ? 'APP/PSEN1-Tg' : ''"}},
  "y": {"field": "g", "type": "ordinal", "sort": null, "scale": {"paddingInner": 0, "paddingOuter": 0}, "axis": {"orient": "right", "title": null}},
  "color": {"field": "v", "type": "quantitative", "scale": {"domain": [-5, 0, 5], "range": ["#5585c6", "#ffffff", "#f65c5c"], "interpolate": "rgb"}, "legend": {"values": [-5, 0, 5], "title": "FC", "legendX": 378, "legendY": 1331, "labelOffset": -49, "labelExpr": "'' + datum.value", "encode": {"labels": {"update": {"align": {"value": "center"}, "baseline": {"value": "alphabetic"}}}}}}
 }
},
{
 "data": {"name": "C"}, "width": 240, "height": 92,
 "title": {"text": "C", "dx": -38, "offset": 29},
 "layer": [
  {"mark": {"type": "rect"},
   "encoding": {
    "x": {"field": "s", "type": "ordinal", "scale": {"paddingInner": 0, "paddingOuter": 0}, "axis": {"orient": "top", "title": null, "labelExpr": "datum.value == 3 ? 'Non-Transgenic' : datum.value == 9 ? 'APP/PSEN1-Tg' : ''"}},
    "y": {"field": "g", "type": "ordinal", "sort": null, "scale": {"paddingInner": 0, "paddingOuter": 0}, "axis": {"orient": "right", "title": null}},
    "color": {"field": "v", "type": "quantitative", "scale": {"domain": [-5, 0, 5], "range": ["#5585c6", "#ffffff", "#f65c5c"], "interpolate": "rgb"}, "legend": {"values": [-5, 0, 5], "title": "FC", "legendX": 378, "legendY": 1331, "labelOffset": -49, "labelExpr": "'' + datum.value", "encode": {"labels": {"update": {"align": {"value": "center"}, "baseline": {"value": "alphabetic"}}}}}}
   }},
  {"mark": {"type": "rect", "opacity": 0},
   "encoding": {"y": {"field": "g", "type": "ordinal", "sort": null, "axis": {"orient": "left", "title": "Striatum", "titleY": 40}}}}
 ],
 "resolve": {"axis": {"y": "independent"}}
},
{
 "data": {"name": "D"}, "width": 240, "height": 69,
 "title": {"text": "D", "dx": -21, "offset": 29},
 "mark": {"type": "rect"},
 "encoding": {
  "x": {"field": "s", "type": "ordinal", "scale": {"paddingInner": 0, "paddingOuter": 0}, "axis": {"orient": "top", "title": null, "labelExpr": "datum.value == 3 ? 'Non-Transgenic' : datum.value == 9 ? 'APP/PSEN1-Tg' : ''"}},
  "y": {"field": "g", "type": "ordinal", "sort": null, "scale": {"paddingInner": 0, "paddingOuter": 0}, "axis": {"orient": "right", "title": null}},
  "color": {"field": "v", "type": "quantitative", "scale": {"domain": [-5, 0, 5], "range": ["#5585c6", "#ffffff", "#f65c5c"], "interpolate": "rgb"}, "legend": {"values": [-5, 0, 5], "title": "FC", "legendX": 378, "legendY": 1331, "labelOffset": -49, "labelExpr": "'' + datum.value", "encode": {"labels": {"update": {"align": {"value": "center"}, "baseline": {"value": "alphabetic"}}}}}}
 }
},
{
 "data": {"name": "E"}, "width": 240, "height": 321,
 "title": {"text": "E", "dx": -40, "offset": 24},
 "layer": [
  {"mark": {"type": "rect"},
   "encoding": {
    "x": {"field": "s", "type": "ordinal", "scale": {"paddingInner": 0, "paddingOuter": 0}, "axis": {"orient": "top", "title": null, "labelExpr": "datum.value == 3 ? 'Non-Transgenic' : datum.value == 9 ? 'APP/PSEN1-Tg' : ''"}},
    "y": {"field": "g", "type": "ordinal", "sort": null, "scale": {"paddingInner": 0, "paddingOuter": 0}, "axis": {"orient": "right", "title": null}},
    "color": {"field": "v", "type": "quantitative", "scale": {"domain": [-5, 0, 5], "range": ["#5585c6", "#ffffff", "#f65c5c"], "interpolate": "rgb"}, "legend": {"values": [-5, 0, 5], "title": "FC", "legendX": 378, "legendY": 1331, "labelOffset": -49, "labelExpr": "'' + datum.value", "encode": {"labels": {"update": {"align": {"value": "center"}, "baseline": {"value": "alphabetic"}}}}}}
   }},
  {"mark": {"type": "rect", "opacity": 0},
   "encoding": {"y": {"field": "g", "type": "ordinal", "sort": null, "axis": {"orient": "left", "title": "Hippocampus", "titleY": 170}}}}
 ],
 "resolve": {"axis": {"y": "independent"}}
},
{
 "data": {"name": "F"}, "width": 240, "height": 46,
 "title": {"text": "F", "dx": -21, "offset": 24},
 "mark": {"type": "rect"},
 "encoding": {
  "x": {"field": "s", "type": "ordinal", "scale": {"paddingInner": 0, "paddingOuter": 0}, "axis": {"orient": "top", "title": null, "labelExpr": "datum.value == 3 ? 'Non-Transgenic' : datum.value == 9 ? 'APP/PSEN1-Tg' : ''"}},
  "y": {"field": "g", "type": "ordinal", "sort": null, "scale": {"paddingInner": 0, "paddingOuter": 0}, "axis": {"orient": "right", "title": null}},
  "color": {"field": "v", "type": "quantitative", "scale": {"domain": [-5, 0, 5], "range": ["#5585c6", "#ffffff", "#f65c5c"], "interpolate": "rgb"}, "legend": {"values": [-5, 0, 5], "title": "FC", "legendX": 378, "legendY": 1331, "labelOffset": -49, "labelExpr": "'' + datum.value", "encode": {"labels": {"update": {"align": {"value": "center"}, "baseline": {"value": "alphabetic"}}}}}}
 }
},
{
 "data": {"name": "G"}, "width": 220, "height": 504,
 "title": {"text": "G", "dx": -40, "offset": 24},
 "layer": [
  {"mark": {"type": "rect"},
   "encoding": {
    "x": {"field": "s", "type": "ordinal", "scale": {"paddingInner": 0, "paddingOuter": 0}, "axis": {"orient": "top", "title": null, "labelExpr": "datum.value == 3 ? 'Non-Transgenic' : datum.value == 9 ? 'APP/PSEN1-Tg' : ''"}},
    "y": {"field": "g", "type": "ordinal", "sort": null, "scale": {"paddingInner": 0, "paddingOuter": 0}, "axis": {"orient": "right", "title": null, "labelPadding": 20}},
    "color": {"field": "v", "type": "quantitative", "scale": {"domain": [-5, 0, 5], "range": ["#5585c6", "#ffffff", "#f65c5c"], "interpolate": "rgb"}, "legend": {"values": [-5, 0, 5], "title": "FC", "legendX": 378, "legendY": 1331, "labelOffset": -49, "labelExpr": "'' + datum.value", "encode": {"labels": {"update": {"align": {"value": "center"}, "baseline": {"value": "alphabetic"}}}}}}
   }},
  {"mark": {"type": "rect", "opacity": 0},
   "encoding": {"y": {"field": "g", "type": "ordinal", "sort": null, "axis": {"orient": "left", "title": "Amygdala", "titleY": 278}}}}
 ],
 "resolve": {"axis": {"y": "independent"}}
},
{
 "data": {"name": "H"}, "width": 240, "height": 112,
 "title": {"text": "H", "dx": -21, "offset": 24},
 "mark": {"type": "rect"},
 "encoding": {
  "x": {"field": "s", "type": "ordinal", "scale": {"paddingInner": 0, "paddingOuter": 0}, "axis": {"orient": "top", "title": null, "labelExpr": "datum.value == 3 ? 'Non-Transgenic' : datum.value == 9 ? 'APP/PSEN1-Tg' : ''"}},
  "y": {"field": "g", "type": "ordinal", "sort": null, "scale": {"paddingInner": 0, "paddingOuter": 0}, "axis": {"orient": "right", "title": null}},
  "color": {"field": "v", "type": "quantitative", "scale": {"domain": [-5, 0, 5], "range": ["#5585c6", "#ffffff", "#f65c5c"], "interpolate": "rgb"}, "legend": {"values": [-5, 0, 5], "title": "FC", "legendX": 378, "legendY": 1331, "labelOffset": -49, "labelExpr": "'' + datum.value", "encode": {"labels": {"update": {"align": {"value": "center"}, "baseline": {"value": "alphabetic"}}}}}}
 }
}
]
}
